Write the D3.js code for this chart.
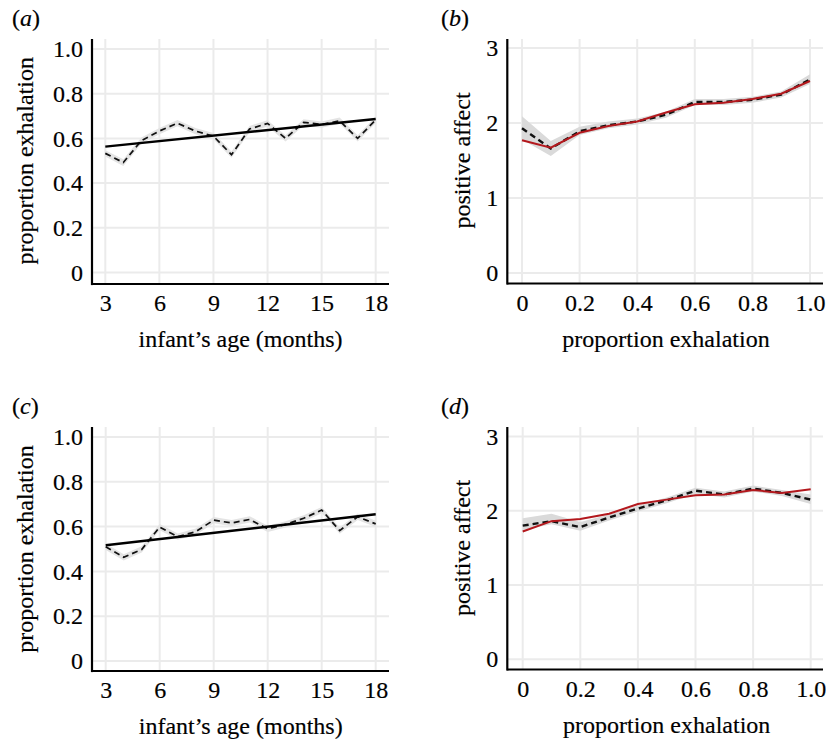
<!DOCTYPE html>
<html><head><meta charset="utf-8">
<script src="https://cdn.jsdelivr.net/npm/d3@7"></script>
<style>
body{margin:0;background:#fff}
svg{display:block}
text{font-family:"Liberation Serif","Times New Roman",Times,serif;fill:#000;stroke:#000;stroke-width:0.18px}
</style>
</head><body>
<svg id="chart" width="828" height="740"></svg>
<script>
// ---------- data ----------
const ageMonths = [3,4,5,6,7,8,9,10,11,12,13,14,15,16,17,18];
const ageTicks = [3,6,9,12,15,18];
const propTicks = [0,0.2,0.4,0.6,0.8,1.0];
const propTickLabels = ["0","0.2","0.4","0.6","0.8","1.0"];
const affectTicks = [0,1,2,3];
const affectTickLabels = ["0","1","2","3"];
const propBins = [0,0.1,0.2,0.3,0.4,0.5,0.6,0.7,0.8,0.9,1.0];

// (a) proportion exhalation by age
const aMean  = [0.533,0.492,0.590,0.633,0.668,0.633,0.610,0.527,0.642,0.667,0.600,0.672,0.662,0.679,0.600,0.683];
const aLower = [0.519,0.477,0.576,0.619,0.654,0.619,0.596,0.513,0.628,0.653,0.586,0.658,0.648,0.665,0.586,0.669];
const aUpper = [0.547,0.507,0.604,0.647,0.682,0.647,0.624,0.541,0.656,0.681,0.614,0.686,0.676,0.693,0.614,0.697];
const aFitX = [3,18];
const aFitY = [0.563,0.687];

// (c) proportion exhalation by age
const cMean  = [0.510,0.463,0.498,0.598,0.555,0.577,0.629,0.616,0.632,0.590,0.610,0.637,0.674,0.582,0.644,0.612];
const cLower = [0.496,0.449,0.484,0.584,0.541,0.563,0.615,0.602,0.618,0.576,0.596,0.623,0.660,0.568,0.630,0.598];
const cUpper = [0.524,0.477,0.512,0.612,0.569,0.591,0.643,0.630,0.646,0.604,0.624,0.651,0.688,0.596,0.658,0.626];
const cFitX = [3,18];
const cFitY = [0.517,0.655];

// (b) positive affect by proportion exhalation
const bMean  = [1.93,1.66,1.89,1.97,2.02,2.11,2.28,2.28,2.31,2.38,2.58];
const bFit   = [1.77,1.67,1.87,1.96,2.02,2.14,2.25,2.27,2.32,2.39,2.56];
const bLower = [1.78,1.56,1.84,1.93,1.98,2.07,2.24,2.24,2.27,2.34,2.52];
const bUpper = [2.09,1.76,1.95,2.02,2.06,2.15,2.32,2.32,2.35,2.42,2.65];

// (d) positive affect by proportion exhalation
const dMean  = [1.80,1.86,1.78,1.91,2.03,2.14,2.27,2.22,2.30,2.24,2.15];
const dFit   = [1.72,1.86,1.89,1.96,2.09,2.15,2.21,2.22,2.28,2.24,2.29];
const dLower = [1.74,1.82,1.73,1.87,1.99,2.10,2.23,2.18,2.26,2.20,2.09];
const dUpper = [1.90,1.96,1.85,1.95,2.07,2.18,2.31,2.26,2.34,2.28,2.22];

// ---------- layout ----------
const svg = d3.select("#chart");
const tickFont = 24, titleFont = 24;

const panels = [
  {tag:"a", left:92, right:389, top:39, bottom:284, xr:[105.3,375.7], yr:[272.5,49],
   xDomain:[3,18], yDomain:[0,1], xTicks:ageTicks, xLabels:ageTicks.map(String),
   yTicks:propTicks, yLabels:propTickLabels, xTitle:"infant\u2019s age (months)", yTitle:"proportion exhalation",
   xs:ageMonths, mean:aMean, lo:aLower, hi:aUpper, fitX:aFitX, fitY:aFitY, fitColor:"#000", fitWidth:2.4,
   ribbon:"#e4e4e4", dash:"6,4", dashWidth:1.7, yTitleX:33},
  {tag:"b", left:507.3, right:823, top:39, bottom:283.5, xr:[522,810], yr:[273,48],
   xDomain:[0,1], yDomain:[0,3], xTicks:propTicks, xLabels:propTickLabels,
   yTicks:affectTicks, yLabels:affectTickLabels, xTitle:"proportion exhalation", yTitle:"positive affect",
   xs:propBins, mean:bMean, lo:bLower, hi:bUpper, fitX:propBins, fitY:bFit, fitColor:"#b3181d", fitWidth:2,
   ribbon:"#dadada", dash:"6,4", dashWidth:2.4, yTitleX:470},
  {tag:"c", left:92, right:389, top:427, bottom:671, xr:[105.7,375.7], yr:[661,437],
   xDomain:[3,18], yDomain:[0,1], xTicks:ageTicks, xLabels:ageTicks.map(String),
   yTicks:propTicks, yLabels:propTickLabels, xTitle:"infant\u2019s age (months)", yTitle:"proportion exhalation",
   xs:ageMonths, mean:cMean, lo:cLower, hi:cUpper, fitX:cFitX, fitY:cFitY, fitColor:"#000", fitWidth:2.4,
   ribbon:"#e4e4e4", dash:"6,4", dashWidth:1.7, yTitleX:33},
  {tag:"d", left:507.3, right:823, top:427, bottom:669.5, xr:[522.7,810.7], yr:[659.3,436.5],
   xDomain:[0,1], yDomain:[0,3], xTicks:propTicks, xLabels:propTickLabels,
   yTicks:affectTicks, yLabels:affectTickLabels, xTitle:"proportion exhalation", yTitle:"positive affect",
   xs:propBins, mean:dMean, lo:dLower, hi:dUpper, fitX:propBins, fitY:dFit, fitColor:"#b3181d", fitWidth:2,
   ribbon:"#dadada", dash:"6,4", dashWidth:2.4, yTitleX:470}
];

panels.forEach(p => {
  const g = svg.append("g");
  const x = d3.scaleLinear().domain(p.xDomain).range(p.xr);
  const y = d3.scaleLinear().domain(p.yDomain).range(p.yr);

  // gridlines
  g.append("g").selectAll("line").data(p.xTicks).join("line")
    .attr("x1", d => x(d)).attr("x2", d => x(d))
    .attr("y1", p.top).attr("y2", p.bottom)
    .attr("stroke", "#ebebeb").attr("stroke-width", 2);
  g.append("g").selectAll("line").data(p.yTicks).join("line")
    .attr("x1", p.left).attr("x2", p.right)
    .attr("y1", d => y(d)).attr("y2", d => y(d))
    .attr("stroke", "#ebebeb").attr("stroke-width", 2);

  // ribbon
  const idx = p.xs.map((_, i) => i);
  g.append("path").datum(idx)
    .attr("d", d3.area().x(i => x(p.xs[i])).y0(i => y(p.lo[i])).y1(i => y(p.hi[i])))
    .attr("fill", p.ribbon).attr("stroke", "none");

  // dashed observed line
  g.append("path").datum(idx)
    .attr("d", d3.line().x(i => x(p.xs[i])).y(i => y(p.mean[i])))
    .attr("fill", "none").attr("stroke", "#111")
    .attr("stroke-width", p.dashWidth).attr("stroke-dasharray", p.dash);

  // fit line
  const fidx = p.fitX.map((_, i) => i);
  g.append("path").datum(fidx)
    .attr("d", d3.line().x(i => x(p.fitX[i])).y(i => y(p.fitY[i])))
    .attr("fill", "none").attr("stroke", p.fitColor).attr("stroke-width", p.fitWidth);

  // axes
  const xa = g.append("g").attr("transform", `translate(0,${p.bottom})`)
    .call(d3.axisBottom(x).tickValues(p.xTicks)
      .tickFormat((d, i) => p.xLabels[i]).tickSize(0).tickPadding(10));
  xa.select(".domain").remove();
  xa.attr("font-size", tickFont).attr("font-family", null);

  const ya = g.append("g").attr("transform", `translate(${p.left},0)`)
    .call(d3.axisLeft(y).tickValues(p.yTicks)
      .tickFormat((d, i) => p.yLabels[i]).tickSize(0).tickPadding(9));
  ya.select(".domain").remove();
  ya.attr("font-size", tickFont).attr("font-family", null);

  // axis lines
  g.append("line").attr("x1", p.left).attr("x2", p.right)
    .attr("y1", p.bottom).attr("y2", p.bottom)
    .attr("stroke", "#000").attr("stroke-width", 2.2);
  g.append("line").attr("x1", p.left).attr("x2", p.left)
    .attr("y1", p.top).attr("y2", p.bottom + 1.1)
    .attr("stroke", "#000").attr("stroke-width", 2.2);

  // titles
  g.append("text").attr("x", (p.xr[0] + p.xr[1]) / 2).attr("y", p.bottom + 63)
    .attr("text-anchor", "middle").attr("font-size", titleFont).text(p.xTitle);
  const yc = (p.yr[0] + p.yr[1]) / 2;
  g.append("text").attr("transform", `translate(${p.yTitleX},${yc}) rotate(-90)`)
    .attr("text-anchor", "middle").attr("font-size", titleFont).text(p.yTitle);

  // panel tag
  const tag = g.append("text").attr("x", p.left < 300 ? 12 : 441).attr("y", p.top - 13)
    .attr("font-size", tickFont);
  tag.append("tspan").text("(");
  tag.append("tspan").attr("font-style", "italic").text(p.tag);
  tag.append("tspan").text(")");
});
</script>
</body></html>
